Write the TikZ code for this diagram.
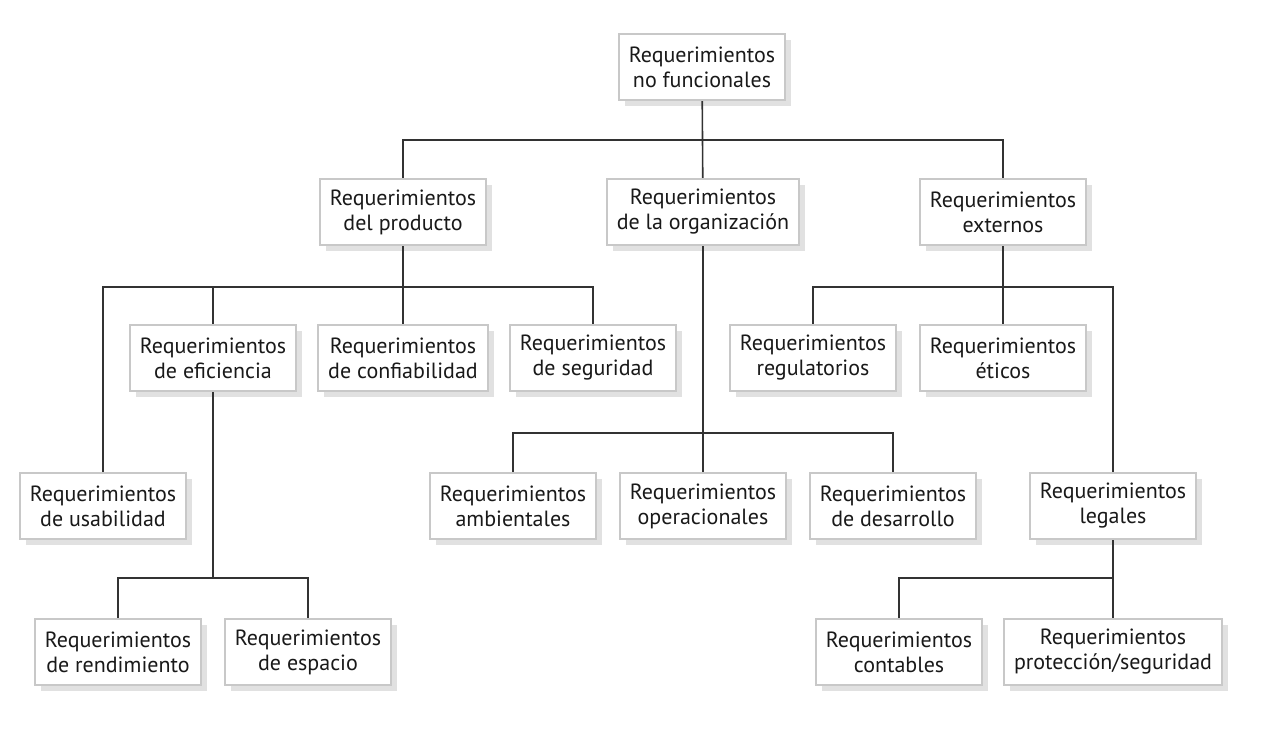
\documentclass[tikz,border=0pt]{standalone}
\usepackage{fontspec}
\setmainfont{PT Sans}
\usetikzlibrary{shadows}
\definecolor{boxline}{RGB}{200,200,200}
\definecolor{shade}{RGB}{225,225,225}
\definecolor{wire}{RGB}{50,50,50}
\begin{document}
\begin{tikzpicture}[x=0.5pt,y=-0.5pt,
  req/.style={draw=boxline,line width=1.2pt,fill=white,align=center,
    minimum width=81pt,minimum height=33pt,inner xsep=5pt,
    font=\fontsize{11}{12.5}\selectfont,text=black!90,
    drop shadow={shadow xshift=3pt,shadow yshift=-3pt,fill=shade,opacity=1}},
  link/.style={draw=wire,line width=0.8pt}]
\useasboundingbox (0,0) rectangle (1280,755);
\node[req] (nf) at (702,67) {Requerimientos\\no funcionales};
\node[req] (prod) at (403,212) {Requerimientos\\del producto};
\node[req] (org) at (703,212) {Requerimientos\\de la organización};
\node[req] (ext) at (1003,212) {Requerimientos\\externos};
\node[req] (efi) at (213,358) {Requerimientos\\de eficiencia};
\node[req] (conf) at (403,358) {Requerimientos\\de confiabilidad};
\node[req] (seg) at (593,358) {Requerimientos\\de seguridad};
\node[req] (reg) at (813,358) {Requerimientos\\regulatorios};
\node[req] (eti) at (1003,358) {Requerimientos\\éticos};
\node[req] (usa) at (103,506) {Requerimientos\\de usabilidad};
\node[req] (amb) at (513,506) {Requerimientos\\ambientales};
\node[req] (ope) at (703,506) {Requerimientos\\operacionales};
\node[req] (des) at (893,506) {Requerimientos\\de desarrollo};
\node[req] (leg) at (1113,506) {Requerimientos\\legales};
\node[req] (ren) at (118,652) {Requerimientos\\de rendimiento};
\node[req] (esp) at (308,652) {Requerimientos\\de espacio};
\node[req] (con) at (899,652) {Requerimientos\\contables};
\node[req] (pro) at (1113,652) {Requerimientos\\protección/seguridad};
\coordinate (b1) at (702,140);
\coordinate (b2) at (403,287);
\coordinate (b3) at (1003,287);
\coordinate (b4) at (703,433);
\coordinate (b5) at (213,578);
\coordinate (b6) at (1113,578);
\draw[link] (nf) -- (org);
\draw[link] (prod) |- (b1) -| (ext);
\draw[link] (prod) -- (conf);
\draw[link] (usa) |- (b2) -| (seg);
\draw[link] (efi) -- (efi |- b2);
\draw[link] (ext) -- (eti);
\draw[link] (reg) |- (b3) -| (leg);
\draw[link] (org) -- (ope);
\draw[link] (amb) |- (b4) -| (des);
\draw[link] (efi) -- (b5);
\draw[link] (ren) |- (b5) -| (esp);
\draw[link] (leg) -- (pro);
\draw[link] (con) |- (b6);
\end{tikzpicture}
\end{document}
